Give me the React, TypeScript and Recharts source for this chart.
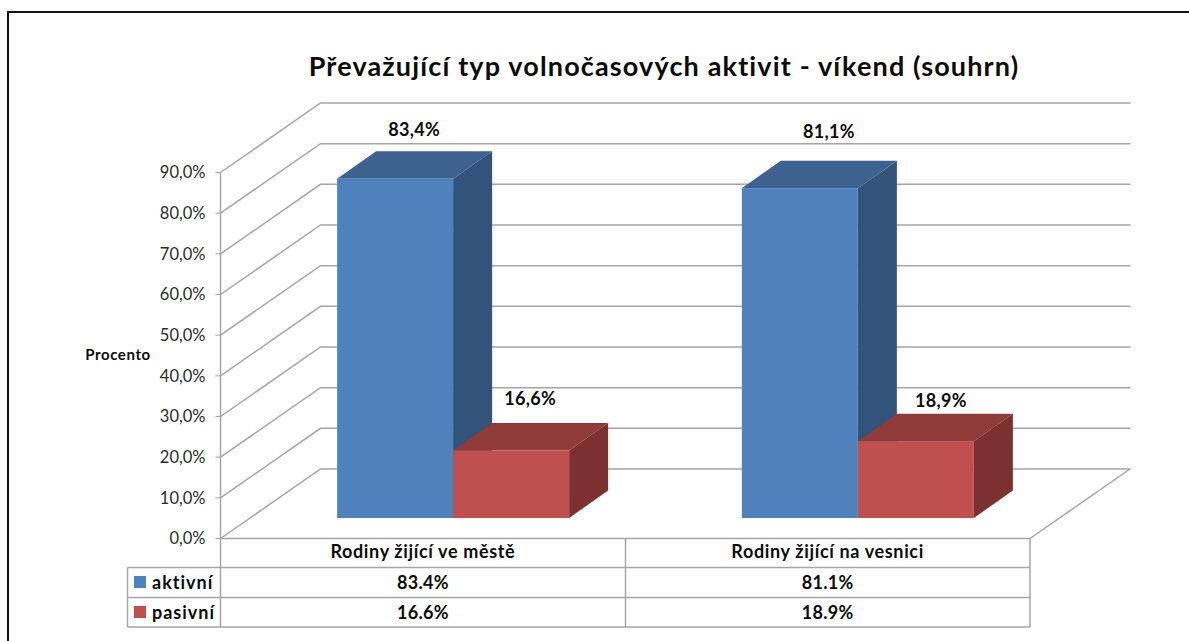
import React from 'react';
import { BarChart, Bar, XAxis, YAxis, CartesianGrid, LabelList } from 'recharts';

const categories = ['Rodiny žijící ve městě', 'Rodiny žijící na vesnici'];
const aktivni = [83.4, 81.1];
const pasivni = [16.6, 18.9];
const yTicks = [0, 10, 20, 30, 40, 50, 60, 70, 80, 90];
const data = categories.map((name, i) => ({ name, aktivni: aktivni[i], pasivni: pasivni[i] }));

const FONT = 'Lato, sans-serif';
const SHIFT_X = 30;
const SHIFT_Y = -20.5;
const DEPTH_X = 39;
const DEPTH_Y = -27.5;
const WALL_X = 100;
const WALL_Y = -69.5;
const WALL_W = 810;
const GRID = '#a6a6a6';

const Box = ({ x, y, width, height, front, top, side }: any) => {
  const l = x + SHIFT_X, t = y + SHIFT_Y, r = l + width, b = t + height;
  const dx = DEPTH_X, dy = DEPTH_Y;
  return (
    <g>
      <polygon points={`${r},${t} ${r + dx},${t + dy} ${r + dx},${b + dy} ${r},${b}`} fill={side} />
      <polygon points={`${l},${t} ${l + dx},${t + dy} ${r + dx},${t + dy} ${r},${t}`} fill={top} />
      <rect x={l} y={t} width={width} height={height} fill={front} />
    </g>
  );
};

const GridLine = ({ x1, y1 }: any) => (
  <polyline
    points={`${x1},${y1} ${x1 + WALL_X},${y1 + WALL_Y} ${x1 + WALL_W + 100},${y1 + WALL_Y}`}
    fill="none"
    stroke={GRID}
    strokeWidth={1.5}
  />
);

const makeLabel = (nudgeX: number[], nudgeY: number[]) => ({ x, y, width, value, index }: any) => (
  <text
    x={x + width / 2 + SHIFT_X + nudgeX[index]}
    y={y + SHIFT_Y + nudgeY[index]}
    textAnchor="middle"
    fontFamily={FONT}
    fontWeight={700}
    fontSize={18}
    letterSpacing={0.3}
    fill="#0c0c0c"
  >
    {String(value).replace('.', ',')}%
  </text>
);

const tableRows = [
  { label: 'aktivní', color: '#4f81bd', values: aktivni },
  { label: 'pasivní', color: '#c0504d', values: pasivni },
];

const AX = 220.5, MX = 625.5, RX = 1030, LX = 127.5;
const Y0 = 538.5, Y1 = 567.5, Y2 = 597.5, Y3 = 627;

const Table = () => (
  <svg width={1189} height={641} style={{ position: 'absolute', left: 0, top: 0, pointerEvents: 'none' }}>
    <g stroke={GRID} strokeWidth={1.5} fill="none">
      <line x1={AX} y1={Y0} x2={AX} y2={Y3} />
      <line x1={MX} y1={Y0} x2={MX} y2={Y3} />
      <line x1={RX} y1={Y0} x2={RX} y2={Y3} />
      <line x1={LX} y1={Y1} x2={LX} y2={Y3} />
      <line x1={LX} y1={Y1} x2={RX} y2={Y1} />
      <line x1={LX} y1={Y2} x2={RX} y2={Y2} />
      <line x1={LX} y1={Y3} x2={RX} y2={Y3} />
      <line x1={RX} y1={Y0} x2={RX + WALL_X} y2={Y0 + WALL_Y} />
    </g>
    {tableRows.map((row, i) => {
      const yTop = i === 0 ? Y1 : Y2;
      const base = yTop + 21;
      return (
        <g key={row.label} fontFamily={FONT} fontWeight={700} fontSize={18} fill="#0c0c0c">
          <rect x={134} y={yTop + 8.5} width={12} height={12} fill={row.color} />
          <text x={152} y={base} letterSpacing={1}>{row.label}</text>
          <text x={(AX + MX) / 2} y={base} textAnchor="middle" letterSpacing={0.3}>{row.values[0].toFixed(1)}%</text>
          <text x={(MX + RX) / 2} y={base} textAnchor="middle" letterSpacing={0.3}>{row.values[1].toFixed(1)}%</text>
        </g>
      );
    })}
    <text x={118} y={360} textAnchor="middle" fontFamily={FONT} fontWeight={700} fontSize={15} letterSpacing={0.6} fill="#0c0c0c">Procento</text>
    <text x={664} y={76} textAnchor="middle" fontFamily={FONT} fontWeight={700} fontSize={27} letterSpacing={1.15} fill="#0c0c0c">
      Převažující typ volnočasových aktivit - víkend (souhrn)
    </text>
  </svg>
);

export default function App() {
  return (
    <div style={{ position: 'absolute', left: 0, top: 0, width: 1189, height: 641, background: '#fff', overflow: 'hidden' }}>
      <div style={{ position: 'absolute', left: 7, top: 10.5, width: 1200, height: 660, border: '2px solid #111', boxSizing: 'border-box' }} />
      <div style={{ position: 'absolute', left: 0, top: 0 }}>
        <BarChart
          width={1189}
          height={641}
          data={data}
          margin={{ top: 172.5, right: 159, bottom: 0, left: 160.5 }}
          barGap={0}
          barCategoryGap="21.4%"
        >
          <CartesianGrid vertical={false} horizontal={<GridLine />} />
          <XAxis
            dataKey="name"
            height={102.5}
            tickLine={false}
            axisLine={{ stroke: GRID, strokeWidth: 1.5 }}
            tick={{ fontFamily: FONT, fontWeight: 700, fontSize: 18, letterSpacing: 0.65, fill: '#0c0c0c' }}
            tickMargin={1}
            interval={0}
          />
          <YAxis
            width={60}
            domain={[0, 90]}
            ticks={yTicks}
            tickFormatter={(v: number) => `${v.toFixed(1).replace('.', ',')}%`}
            axisLine={{ stroke: GRID, strokeWidth: 1.5 }}
            tickLine={{ stroke: GRID }}
            tickSize={5}
            tickMargin={10}
            tick={{ fontFamily: FONT, fontSize: 16.5, fill: '#2b2b2b' }}
            interval={0}
          />
          <Bar
            dataKey="aktivni"
            isAnimationActive={false}
            shape={(p: any) => <Box {...p} front="#4f81bd" top="#3e628f" side="#32537a" />}
          >
            <LabelList dataKey="aktivni" content={makeLabel([19, 29], [-43, -50])} />
          </Bar>
          <Bar
            dataKey="pasivni"
            isAnimationActive={false}
            shape={(p: any) => <Box {...p} front="#c0504d" top="#8e3b3a" side="#7c3130" />}
          >
            <LabelList dataKey="pasivni" content={makeLabel([19, 25], [-45, -34])} />
          </Bar>
        </BarChart>
      </div>
      <Table />
    </div>
  );
}
